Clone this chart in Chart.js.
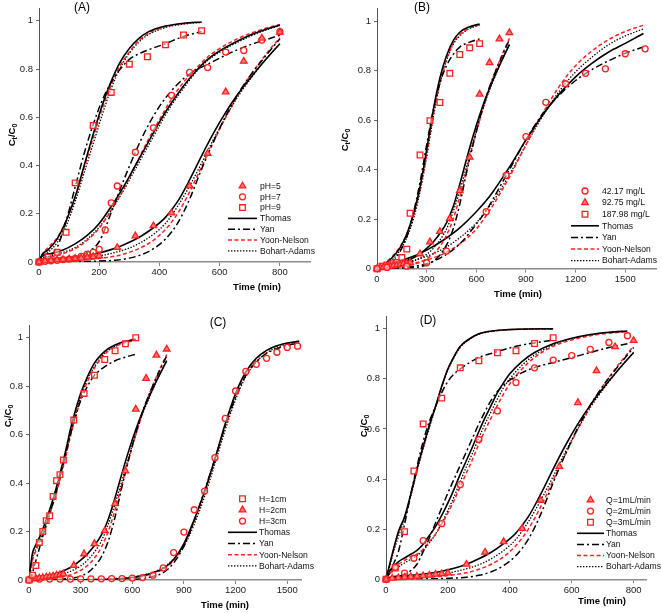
<!DOCTYPE html>
<html><head><meta charset="utf-8">
<script src="https://cdn.jsdelivr.net/npm/chart.js@4.4.1/dist/chart.umd.min.js"></script>
<style>
html,body{margin:0;padding:0;background:#fff;}
#wrap{position:relative;width:662px;height:613px;overflow:hidden;}
canvas{position:absolute;}
</style></head><body>
<div id="wrap">
<canvas id="cA" style="left:0px;top:0px" width="331" height="306"></canvas>
<canvas id="cB" style="left:331px;top:0px" width="331" height="306"></canvas>
<canvas id="cC" style="left:0px;top:306px" width="331" height="307"></canvas>
<canvas id="cD" style="left:331px;top:306px" width="331" height="307"></canvas>
</div>
<script>
// ---------- tick labels ----------
const yTicks = [0, 0.2, 0.4, 0.6, 0.8, 1];
const xTicksA = [0, 200, 400, 600, 800];
const xTicksB = [0, 300, 600, 900, 1200, 1500];
const xTicksC = [0, 300, 600, 900, 1200, 1500];
const xTicksD = [0, 200, 400, 600, 800];

// ---------- shared base condition (pH=5, 92.75 mg/L, H=2cm, Q=1mL/min) ----------
const tBaseObs = [0,20,40,60,80,100,120,140,160,180,200,260,320,380,440,500,560,620,680,740,800];
const baseObs  = [0,0.004,0.006,0.008,0.01,0.012,0.014,0.016,0.02,0.022,0.025,0.06,0.108,0.15,0.203,0.315,0.45,0.705,0.832,0.928,0.953];
const tBase = [0,20,60,100,140,180,220,260,300,340,380,420,460,500,540,580,620,660,700,750,800];
const thomasBase = [0,0.01,0.015,0.018,0.024,0.032,0.044,0.06,0.082,0.108,0.142,0.185,0.25,0.34,0.44,0.535,0.62,0.695,0.76,0.835,0.905];
const yanBase    = [0,0,0,0.001,0.002,0.003,0.005,0.008,0.016,0.03,0.055,0.095,0.16,0.26,0.385,0.5,0.605,0.695,0.77,0.85,0.925];
const yoonBase   = [0,0.003,0.005,0.007,0.009,0.012,0.018,0.026,0.04,0.06,0.09,0.135,0.2,0.29,0.395,0.5,0.6,0.69,0.77,0.855,0.93];
const bohartBase = [0,0.006,0.01,0.012,0.016,0.022,0.03,0.042,0.058,0.082,0.115,0.16,0.23,0.315,0.41,0.51,0.6,0.685,0.755,0.835,0.905];

// ---------- Panel A ----------
const tA7obs = [0,20,40,60,80,100,120,140,160,180,200,220,240,260,320,380,440,500,560,620,680,740,800];
const obsA7  = [0,0.003,0.005,0.007,0.01,0.012,0.015,0.023,0.033,0.04,0.052,0.133,0.245,0.315,0.455,0.556,0.691,0.786,0.806,0.87,0.877,0.92,0.955];
const tA9obs = [0,30,60,90,120,180,240,300,360,420,480,540];
const obsA9  = [0,0.02,0.04,0.123,0.328,0.566,0.703,0.82,0.851,0.9,0.941,0.959];
const tA9 = [0,10,30,60,90,120,150,180,210,240,270,300,330,360,420,480,540];
const thomasA9 = [0,0.03,0.05,0.095,0.17,0.27,0.4,0.53,0.65,0.75,0.83,0.885,0.925,0.952,0.978,0.99,0.995];
const yanA9    = [0,0.01,0.02,0.06,0.17,0.31,0.45,0.57,0.67,0.745,0.8,0.84,0.862,0.878,0.905,0.935,0.955];
const yoonA9   = [0,0.03,0.06,0.1,0.17,0.265,0.39,0.515,0.635,0.735,0.815,0.87,0.915,0.945,0.975,0.988,0.994];
const bohartA9 = [0,0.02,0.04,0.08,0.15,0.25,0.37,0.49,0.61,0.72,0.805,0.865,0.91,0.94,0.972,0.986,0.993];
const tA7 = [0,10,40,80,120,160,200,240,280,320,360,400,440,480,520,560,600,650,700,750,800];
const thomasA7 = [0,0.025,0.035,0.05,0.075,0.11,0.16,0.23,0.31,0.4,0.49,0.58,0.66,0.73,0.79,0.84,0.875,0.91,0.94,0.963,0.982];
const yanA7    = [0,0,0.004,0.01,0.02,0.04,0.085,0.205,0.335,0.455,0.56,0.645,0.71,0.76,0.795,0.82,0.845,0.875,0.9,0.92,0.94];
const yoonA7   = [0,0.01,0.02,0.035,0.055,0.09,0.14,0.215,0.3,0.4,0.5,0.59,0.675,0.745,0.8,0.85,0.885,0.92,0.947,0.968,0.985];
const bohartA7 = [0,0.015,0.025,0.04,0.06,0.095,0.145,0.215,0.295,0.385,0.475,0.565,0.65,0.72,0.785,0.835,0.87,0.905,0.935,0.96,0.98];

// ---------- Panel B ----------
const tB1obs = [0,60,180,300,420,660,780,900,1020,1140,1260,1380,1500,1620];
const obsB1  = [0,0.005,0.01,0.024,0.071,0.23,0.377,0.533,0.672,0.747,0.789,0.807,0.868,0.888];
const tB3obs = [0,30,60,90,120,150,180,200,260,320,380,440,500,560,620];
const obsB3  = [0,0.01,0.015,0.02,0.025,0.045,0.079,0.224,0.459,0.598,0.671,0.789,0.865,0.892,0.909];
const tB3 = [0,20,60,100,140,180,220,260,300,340,380,420,460,500,560,620];
const thomasB3 = [0,0.01,0.025,0.05,0.085,0.14,0.22,0.33,0.48,0.64,0.77,0.86,0.92,0.955,0.977,0.988];
const yanB3    = [0,0.004,0.012,0.03,0.07,0.13,0.225,0.35,0.5,0.64,0.75,0.82,0.865,0.895,0.915,0.928];
const yoonB3   = [0,0.012,0.03,0.055,0.09,0.14,0.215,0.32,0.46,0.62,0.75,0.845,0.91,0.945,0.972,0.985];
const bohartB3 = [0,0.008,0.02,0.04,0.075,0.125,0.2,0.31,0.45,0.61,0.745,0.84,0.905,0.94,0.97,0.984];
const tB1 = [0,30,100,200,300,400,500,600,660,700,800,900,1000,1100,1200,1300,1400,1500,1610];
const thomasB1 = [0,0.01,0.025,0.045,0.075,0.115,0.165,0.23,0.275,0.31,0.41,0.52,0.62,0.705,0.775,0.83,0.875,0.91,0.95];
const yanB1    = [0,0,0.002,0.008,0.02,0.05,0.1,0.18,0.235,0.28,0.4,0.52,0.625,0.7,0.76,0.805,0.84,0.87,0.895];
const yoonB1   = [0,0.005,0.01,0.02,0.035,0.06,0.1,0.16,0.215,0.255,0.37,0.5,0.625,0.735,0.82,0.88,0.925,0.958,0.983];
const bohartB1 = [0,0.008,0.015,0.03,0.05,0.08,0.125,0.185,0.235,0.27,0.38,0.5,0.615,0.715,0.795,0.855,0.905,0.94,0.968];

// ---------- Panel C ----------
const tC1obs = [0,20,40,60,80,100,120,140,160,180,200,260,320,380,440,500,560,620];
const obsC1  = [0,0.02,0.06,0.155,0.2,0.245,0.265,0.345,0.41,0.435,0.495,0.66,0.77,0.845,0.91,0.946,0.975,1.0];
const tC3obs = [0,60,120,180,240,300,360,420,480,540,600,660,720,780,840,900,960,1020,1080,1140,1200,1260,1320,1380,1440,1500,1560];
const obsC3  = [0,0.004,0.004,0.004,0.004,0.005,0.005,0.005,0.006,0.006,0.008,0.01,0.02,0.05,0.113,0.198,0.29,0.367,0.505,0.667,0.78,0.861,0.89,0.915,0.94,0.96,0.965];
const tC1 = [0,10,20,40,60,80,100,120,140,160,180,200,220,240,260,280,300,340,380,420,460,500,560,620];
const thomasC1 = [0,0.06,0.11,0.145,0.175,0.21,0.25,0.29,0.335,0.385,0.44,0.495,0.555,0.62,0.675,0.725,0.77,0.84,0.895,0.93,0.955,0.97,0.985,0.995];
const yanC1    = [0,0.01,0.03,0.08,0.13,0.18,0.225,0.27,0.32,0.37,0.425,0.48,0.54,0.6,0.65,0.7,0.74,0.8,0.845,0.87,0.89,0.905,0.92,0.932];
const yoonC1   = [0,0.04,0.08,0.12,0.155,0.19,0.23,0.27,0.315,0.36,0.415,0.47,0.53,0.59,0.645,0.695,0.745,0.82,0.875,0.915,0.945,0.963,0.98,0.99];
const bohartC1 = [0,0.05,0.09,0.13,0.16,0.195,0.235,0.275,0.32,0.37,0.425,0.48,0.54,0.6,0.655,0.705,0.755,0.83,0.88,0.92,0.948,0.965,0.982,0.992];
const tC3 = [0,200,400,500,600,660,720,780,840,900,960,1020,1080,1140,1200,1260,1320,1380,1440,1500,1570];
const thomasC3 = [0,0,0.002,0.004,0.01,0.018,0.03,0.048,0.085,0.15,0.25,0.365,0.5,0.645,0.77,0.86,0.915,0.948,0.967,0.978,0.986];
const yanC3    = [0,0,0,0.001,0.002,0.006,0.015,0.03,0.07,0.14,0.245,0.37,0.5,0.635,0.755,0.845,0.9,0.935,0.955,0.968,0.978];
const yoonC3   = [0,0,0.001,0.003,0.008,0.015,0.027,0.045,0.08,0.145,0.245,0.36,0.495,0.64,0.765,0.855,0.912,0.946,0.966,0.977,0.985];
const bohartC3 = [0,0.001,0.003,0.006,0.012,0.02,0.032,0.052,0.087,0.14,0.23,0.345,0.48,0.62,0.745,0.84,0.9,0.937,0.96,0.974,0.983];

// ---------- Panel D ----------
const tD2obs = [0,30,60,90,120,180,240,300,360,420,480,540,600,660,720,780];
const obsD2  = [0,0.048,0.025,0.084,0.154,0.222,0.378,0.558,0.672,0.785,0.844,0.875,0.893,0.918,0.945,0.972];
const tD3obs = [0,30,60,90,120,180,240,300,360,420,480,540];
const obsD3  = [0,0.045,0.19,0.432,0.62,0.723,0.844,0.872,0.904,0.912,0.941,0.964];
const tD3 = [0,10,20,40,60,80,100,120,140,160,180,200,220,240,270,300,350,420,540];
const thomasD3 = [0,0.05,0.1,0.19,0.25,0.34,0.44,0.53,0.615,0.69,0.77,0.84,0.89,0.93,0.96,0.98,0.992,0.998,1.0];
const yanD3    = [0,0.02,0.05,0.11,0.22,0.34,0.45,0.55,0.63,0.69,0.745,0.79,0.82,0.84,0.865,0.885,0.905,0.93,0.955];
const yoonD3   = [0,0.045,0.095,0.185,0.245,0.335,0.435,0.525,0.61,0.688,0.768,0.838,0.888,0.928,0.959,0.979,0.991,0.997,0.999];
const bohartD3 = [0,0.04,0.09,0.17,0.24,0.33,0.43,0.52,0.605,0.685,0.765,0.835,0.885,0.925,0.958,0.978,0.991,0.997,0.999];
const tD2 = [0,10,20,40,60,80,100,120,140,160,180,200,220,240,260,280,300,320,340,360,380,400,440,480,540,600,660,720,780];
const thomasD2 = [0,0.03,0.045,0.07,0.085,0.1,0.115,0.14,0.175,0.21,0.255,0.305,0.36,0.42,0.475,0.53,0.59,0.645,0.695,0.745,0.785,0.82,0.87,0.905,0.94,0.962,0.977,0.986,0.991];
const yanD2    = [0,0.002,0.005,0.01,0.02,0.035,0.06,0.11,0.165,0.225,0.285,0.345,0.4,0.455,0.51,0.565,0.62,0.67,0.715,0.75,0.775,0.795,0.825,0.845,0.865,0.885,0.905,0.925,0.94];
const yoonD2   = [0,0.02,0.035,0.06,0.075,0.09,0.1,0.12,0.15,0.18,0.22,0.265,0.315,0.37,0.425,0.48,0.54,0.595,0.645,0.695,0.74,0.78,0.84,0.885,0.93,0.955,0.972,0.982,0.988];
const bohartD2 = [0,0.02,0.03,0.05,0.065,0.08,0.095,0.115,0.145,0.18,0.225,0.275,0.33,0.39,0.45,0.505,0.565,0.62,0.67,0.72,0.765,0.8,0.855,0.895,0.935,0.96,0.975,0.985,0.99];

// ---------- styling helpers ----------
const FONT = "'Liberation Sans', Arial, Helvetica, sans-serif";
const RED = '#ff1f1f';
const MODELS = {
  thomas: {color:'#000000', width:1.6, dash:[]},
  yan:    {color:'#000000', width:1.5, dash:[7,3,2,3]},
  yoon:   {color:RED,       width:1.5, dash:[4,2.5]},
  bohart: {color:'#000000', width:1.3, dash:[1.4,1.6]}
};
const MARK = {
  triangle: {r:3.8, fill:'#ff7a7a'},
  circle:   {r:3.0, fill:'rgba(255,255,255,0.5)'},
  rect:     {r:4.0, fill:'rgba(255,255,255,0.5)'}
};
function pts(xs, ys){ return xs.map((x,i)=>({x:x, y:ys[i]})); }
function curve(xs, ys, model){
  const m = MODELS[model];
  return {data:pts(xs,ys), showLine:true, pointRadius:0, pointHoverRadius:0,
    borderColor:m.color, borderWidth:m.width, borderDash:m.dash,
    cubicInterpolationMode:'monotone', fill:false, order:2};
}
function obs(xs, ys, style){
  const k = MARK[style];
  return {data:pts(xs,ys), showLine:false, pointStyle:style, pointRadius:k.r,
    pointBorderColor:RED, pointBackgroundColor:k.fill, pointBorderWidth:1.3,
    clip:false, order:1};
}
function drawMarker(ctx, style, x, y){
  const k = MARK[style];
  ctx.save();
  ctx.setLineDash([]);
  ctx.strokeStyle = RED; ctx.fillStyle = k.fill; ctx.lineWidth = 1.3;
  ctx.beginPath();
  if (style==='circle'){ ctx.arc(x,y,k.r,0,Math.PI*2); }
  else if (style==='rect'){ const s=k.r*Math.SQRT1_2; ctx.rect(x-s,y-s,2*s,2*s); }
  else { let a=0; ctx.moveTo(x+Math.sin(a)*k.r, y-Math.cos(a)*k.r);
    a+=2*Math.PI/3; ctx.lineTo(x+Math.sin(a)*k.r, y-Math.cos(a)*k.r);
    a+=2*Math.PI/3; ctx.lineTo(x+Math.sin(a)*k.r, y-Math.cos(a)*k.r); ctx.closePath(); }
  ctx.fill(); ctx.stroke();
  ctx.restore();
}
function textPlugin(g){
  return {id:'panelText', afterDraw(chart){
    const ctx = chart.ctx;
    ctx.save();
    ctx.fillStyle = '#000';
    // panel label
    ctx.font = '12px ' + FONT; ctx.textAlign='center'; ctx.textBaseline='middle';
    ctx.fillText(g.label, g.labelX, g.labelY);
    // x title
    ctx.font = 'bold 9.5px ' + FONT;
    ctx.fillText('Time (min)', g.xtX, g.xtY);
    // y title with subscripts
    ctx.save();
    ctx.translate(g.ytX, g.ytY); ctx.rotate(-Math.PI/2);
    const big = 'bold 9.5px ' + FONT, small = 'bold 7px ' + FONT;
    const parts = [['C',big,0],['t',small,2.5],['/C',big,0],['0',small,2.5]];
    let w = 0;
    parts.forEach(p=>{ ctx.font=p[1]; w += ctx.measureText(p[0]).width; });
    let cx = -w/2;
    ctx.textAlign='left'; ctx.textBaseline='alphabetic';
    parts.forEach(p=>{ ctx.font=p[1]; ctx.fillText(p[0], cx, 3.5 + p[2]); cx += ctx.measureText(p[0]).width; });
    ctx.restore();
    // legend
    const L = g.legend;
    ctx.font = '8.6px ' + FONT; ctx.textAlign='left'; ctx.textBaseline='middle';
    L.items.forEach((it, i)=>{
      const y = L.y0 + i*L.dy;
      if (it.mark){ drawMarker(ctx, it.mark, (L.x1+L.x2)/2, y); }
      else {
        const m = MODELS[it.model];
        ctx.save(); ctx.strokeStyle=m.color; ctx.lineWidth=m.width; ctx.setLineDash(m.dash);
        ctx.beginPath(); ctx.moveTo(L.x1, y); ctx.lineTo(L.x2, y); ctx.stroke(); ctx.restore();
      }
      ctx.fillStyle = '#111';
      ctx.fillText(it.text, L.tx, y + 0.5);
    });
    ctx.restore();
  }};
}
function options(g){
  const tickFont = {family:FONT, size:9.5};
  return {
    responsive:false, animation:false, devicePixelRatio:1,
    layout:{padding:{top:g.top, right:g.right, left:0, bottom:0}},
    plugins:{legend:{display:false}, tooltip:{enabled:false}},
    scales:{
      x:{type:'linear', min:0, max:g.xmax,
        afterFit:(s)=>{ s.height = g.xh; },
        afterBuildTicks:(a)=>{ a.ticks = g.xticks.map(v=>({value:v})); },
        ticks:{font:tickFont, color:'#222', padding:1, maxRotation:0, autoSkip:false, callback:(v)=>String(v)},
        grid:{display:true, drawOnChartArea:false, drawTicks:true, tickLength:4, color:'#888', tickColor:'#888'},
        border:{display:true, color:'#8c8c8c', width:1.6}},
      y:{type:'linear', min:0, max:1.05,
        afterFit:(s)=>{ s.width = g.yw; },
        afterBuildTicks:(a)=>{ a.ticks = yTicks.map(v=>({value:v})); },
        ticks:{font:tickFont, color:'#222', padding:3, autoSkip:false, callback:(v)=>String(v)},
        grid:{display:true, drawOnChartArea:false, drawTicks:true, tickLength:3, color:'#666', tickColor:'#666'},
        border:{display:true, color:'#555', width:1}}
    }
  };
}
function modelLegend(){ return [
  {model:'thomas', text:'Thomas'}, {model:'yan', text:'Yan'},
  {model:'yoon', text:'Yoon-Nelson'}, {model:'bohart', text:'Bohart-Adams'}]; }
function group(t, th, ya, yo, bo){
  return [curve(t,th,'thomas'), curve(t,ya,'yan'), curve(t,yo,'yoon'), curve(t,bo,'bohart')];
}
function make(id, g, datasets){
  new Chart(document.getElementById(id), {type:'scatter', data:{datasets:datasets},
    options:options(g), plugins:[textPlugin(g)]});
}

// ---------- Panel A ----------
make('cA', {top:7, right:21, xh:44, yw:39, xmax:900, xticks:xTicksA,
  label:'(A)', labelX:82, labelY:8, xtX:257, xtY:287, ytX:11, ytY:135,
  legend:{x1:228, x2:257, tx:260, y0:186, dy:10.8, items:[
    {mark:'triangle', text:'pH=5'}, {mark:'circle', text:'pH=7'}, {mark:'rect', text:'pH=9'}].concat(modelLegend())}},
  [].concat(
    group(tA9, thomasA9, yanA9, yoonA9, bohartA9),
    group(tA7, thomasA7, yanA7, yoonA7, bohartA7),
    group(tBase, thomasBase, yanBase, yoonBase, bohartBase),
    [obs(tBaseObs, baseObs, 'triangle'), obs(tA7obs, obsA7, 'circle'), obs(tA9obs, obsA9, 'rect')]
  ));

// ---------- Panel B ----------
make('cB', {top:3.4, right:2, xh:37.3, yw:46, xmax:1690, xticks:xTicksB,
  label:'(B)', labelX:91, labelY:8, xtX:187, xtY:294, ytX:13, ytY:140,
  legend:{x1:240, x2:268, tx:271, y0:191, dy:11.6, items:[
    {mark:'circle', text:'42.17 mg/L'}, {mark:'triangle', text:'92.75 mg/L'}, {mark:'rect', text:'187.98 mg/L'}].concat(modelLegend())}},
  [].concat(
    group(tB3, thomasB3, yanB3, yoonB3, bohartB3),
    group(tBase, thomasBase, yanBase, yoonBase, bohartBase),
    group(tB1, thomasB1, yanB1, yoonB1, bohartB1),
    [obs(tB1obs, obsB1, 'circle'), obs(tBaseObs, baseObs, 'triangle'), obs(tB3obs, obsB3, 'rect')]
  ));

// ---------- Panel C ----------
make('cC', {top:19.6, right:30, xh:33, yw:29, xmax:1580, xticks:xTicksC,
  label:'(C)', labelX:218, labelY:17, xtX:225, xtY:299, ytX:7, ytY:110,
  legend:{x1:228, x2:257, tx:259, y0:192.7, dy:11.2, items:[
    {mark:'rect', text:'H=1cm'}, {mark:'triangle', text:'H=2cm'}, {mark:'circle', text:'H=3cm'}].concat(modelLegend())}},
  [].concat(
    group(tC1, thomasC1, yanC1, yoonC1, bohartC1),
    group(tBase, thomasBase, yanBase, yoonBase, bohartBase),
    group(tC3, thomasC3, yanC3, yoonC3, bohartC3),
    [obs(tC1obs, obsC1, 'rect'), obs(tBaseObs, baseObs, 'triangle'), obs(tC3obs, obsC3, 'circle')]
  ));

// ---------- Panel D ----------
make('cD', {top:10.2, right:16, xh:33.7, yw:55, xmax:840, xticks:xTicksD,
  label:'(D)', labelX:97, labelY:15, xtX:271, xtY:295, ytX:32, ytY:120,
  legend:{x1:246, x2:273, tx:275, y0:194, dy:11.1, items:[
    {mark:'triangle', text:'Q=1mL/min'}, {mark:'circle', text:'Q=2mL/min'}, {mark:'rect', text:'Q=3mL/min'}].concat(modelLegend())}},
  [].concat(
    group(tD3, thomasD3, yanD3, yoonD3, bohartD3),
    group(tD2, thomasD2, yanD2, yoonD2, bohartD2),
    group(tBase, thomasBase, yanBase, yoonBase, bohartBase),
    [obs(tBaseObs, baseObs, 'triangle'), obs(tD2obs, obsD2, 'circle'), obs(tD3obs, obsD3, 'rect')]
  ));
</script>
</body></html>
